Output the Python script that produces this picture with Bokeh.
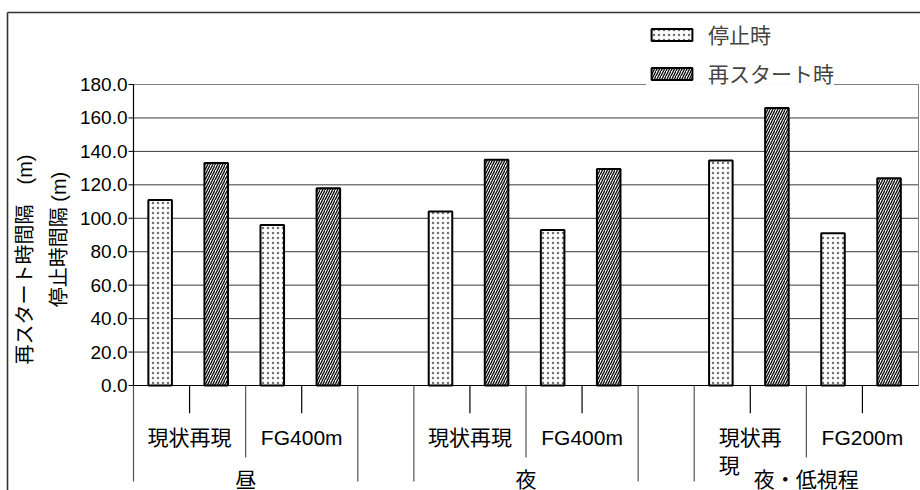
import math

from bokeh.plotting import figure
from bokeh.models import ColumnDataSource, Legend, LegendItem, Range1d
from bokeh.core.properties import value
from bokeh.embed import file_html
from bokeh.resources import INLINE

# ---------------- data ----------------
conditions = ["昼", "夜", "夜・低視程"]
case_labels = [["現状再現", "FG400m"], ["現状再現", "FG400m"], ["現状再\n現", "FG200m"]]
stop_interval = [111.0, 96.0, 104.0, 93.0, 134.5, 91.0]       # 停止時
restart_interval = [133.0, 118.0, 135.0, 129.5, 166.0, 124.0]  # 再スタート時
series_names = ["停止時", "再スタート時"]
y_ticks = [0, 20, 40, 60, 80, 100, 120, 140, 160, 180]
y_title_lines = ["再スタート時間隔　(m)", "停止時間隔 (m)"]

# ---------------- layout ----------------
W, H = 920, 490
FL, FR, FT, FB = 133, 918, 84, 385          # plot area edges (px)
SLOTS_PER_GROUP = 5                          # two cases x two bars + one spacer
n_slots = len(conditions) * SLOTS_PER_GROUP - 1
slot_px = (FR - FL) / n_slots
y_max = y_ticks[-1]
unit_px = (FB - FT) / y_max

FONT = "Liberation Sans, Noto Sans CJK JP"
LABEL_PX = 21
BAR_W = 0.42
BAR_SHIFT = 0.025


def xd(px):
    """screen x (px) -> slot units"""
    return (px - FL) / slot_px


def yd(py):
    """screen y (px, from top) -> value units"""
    return (FB - py) / unit_px


p = figure(width=W, height=H, x_range=Range1d(xd(0), xd(W)), y_range=Range1d(yd(H), yd(0)),
           output_backend="svg", toolbar_location=None,
           x_axis_type=None, y_axis_type=None, min_border=0)
p.min_border_left = p.min_border_right = p.min_border_top = p.min_border_bottom = 0
p.background_fill_color = "white"
p.border_fill_color = "white"
p.outline_line_color = None
p.grid.visible = False

# chart area border (top and left edges lie inside the window)
p.segment(x0=[xd(7), xd(7)], y0=[yd(12), yd(12)], x1=[xd(W + 5), xd(7)], y1=[yd(12), yd(H + 5)],
          line_color="#333333", line_width=1.6)

# plot area: grid, outline, axes
p.segment(x0=[0] * len(y_ticks), y0=y_ticks, x1=[n_slots] * len(y_ticks), y1=y_ticks,
          line_color="#3a3a3a", line_width=1)
p.segment(x0=[0, n_slots], y0=[y_max, 0], x1=[n_slots, n_slots], y1=[y_max, y_max],
          line_color="#808080", line_width=1)
p.segment(x0=[0, 0], y0=[0, 0], x1=[0, n_slots], y1=[y_max, 0],
          line_color="black", line_width=1.2)
p.segment(x0=[xd(FL - 5)] * len(y_ticks), y0=y_ticks, x1=[0] * len(y_ticks), y1=y_ticks,
          line_color="black", line_width=1)
p.text(x=[xd(FL - 5)] * len(y_ticks), y=y_ticks, text=[f"{t:.1f}" for t in y_ticks],
       text_align="right", text_baseline="middle", text_font=value(FONT),
       text_font_size=value("19px"), text_color="black", x_offset=-1)

# bars
xs_stop, xs_restart = [], []
for g, cases in enumerate(case_labels):
    for c, _ in enumerate(cases):
        base = g * SLOTS_PER_GROUP + 2 * c
        xs_stop.append(base + 0.5 - BAR_SHIFT)
        xs_restart.append(base + 1.5 - BAR_SHIFT)

src_stop = ColumnDataSource(dict(x=xs_stop, top=stop_interval))
src_restart = ColumnDataSource(dict(x=xs_restart, top=restart_interval))

r_stop = p.vbar(x="x", top="top", bottom=0, width=BAR_W, source=src_stop,
                fill_color="white", line_color="black", line_width=2,
                hatch_pattern="dot", hatch_color="#707070", hatch_scale=5, hatch_weight=1.2)
r_restart = p.vbar(x="x", top="top", bottom=0, width=BAR_W, source=src_restart,
                   fill_color="white", line_color="black", line_width=2,
                   hatch_pattern="right_diagonal_line", hatch_color="#111111",
                   hatch_scale=5, hatch_weight=1.4)

# category separators below the axis
short_x, mid_x, long_x = [], [], []
for g, cases in enumerate(case_labels):
    g0 = g * SLOTS_PER_GROUP
    for c in range(len(cases)):
        short_x.append(g0 + 2 * c + 1)
    mid_x.append(g0 + 2)
    long_x.append(g0)
    if g < len(conditions) - 1:
        long_x.append(g0 + 4)

for xs, end_px, color in [(short_x, 412.7, "black"), (mid_x, 457, "#555555"),
                          (long_x, 481, "#555555")]:
    p.segment(x0=xs, y0=[0] * len(xs), x1=xs, y1=[yd(end_px)] * len(xs),
              line_color=color, line_width=1.2)

# case labels (second level)
cx_list, cy_list, ct_list = [], [], []
lx_list, ly_list, lt_list = [], [], []
for g, cases in enumerate(case_labels):
    for c, text in enumerate(cases):
        cx = g * SLOTS_PER_GROUP + 2 * c + 1
        lines = text.split("\n")
        cx_list.append(cx)
        cy_list.append(yd(437))
        ct_list.append(lines[0])
        left = cx - (len(lines[0]) * LABEL_PX / 2) / slot_px
        for k, extra in enumerate(lines[1:], start=1):
            lx_list.append(left)
            ly_list.append(yd(437 + 28 * k))
            lt_list.append(extra)

p.text(x=cx_list, y=cy_list, text=ct_list, text_align="center", text_baseline="middle",
       text_font=value(FONT), text_font_size=value(f"{LABEL_PX}px"), text_color="black")
p.text(x=lx_list, y=ly_list, text=lt_list, text_align="left", text_baseline="middle",
       text_font=value(FONT), text_font_size=value(f"{LABEL_PX}px"), text_color="black")

# condition labels (top level)
p.text(x=[g * SLOTS_PER_GROUP + 2 for g in range(len(conditions))],
       y=[yd(479)] * len(conditions), text=conditions,
       text_align="center", text_baseline="middle",
       text_font=value(FONT), text_font_size=value(f"{LABEL_PX}px"), text_color="black")

# two-line value axis title
p.text(x=[xd(24), xd(58)], y=[yd(259), yd(239)], text=y_title_lines, angle=math.pi / 2,
       text_align="center", text_baseline="middle", text_font=value(FONT),
       text_font_size=value("20px"), text_color="black")

# legend: location is the lower-left corner, measured from the bottom edge
legend = Legend(items=[LegendItem(label=series_names[0], renderers=[r_stop]),
                       LegendItem(label=series_names[1], renderers=[r_restart])],
                location=(646, H - 88), orientation="vertical",
                glyph_width=51, glyph_height=15, label_standoff=11, spacing=9,
                padding=0, margin=0, label_height=15,
                label_text_font=FONT, label_text_font_size=f"{LABEL_PX}px",
                border_line_color=None, background_fill_color="white")
p.add_layout(legend)

open("out.html", "w").write(file_html(p, INLINE))
